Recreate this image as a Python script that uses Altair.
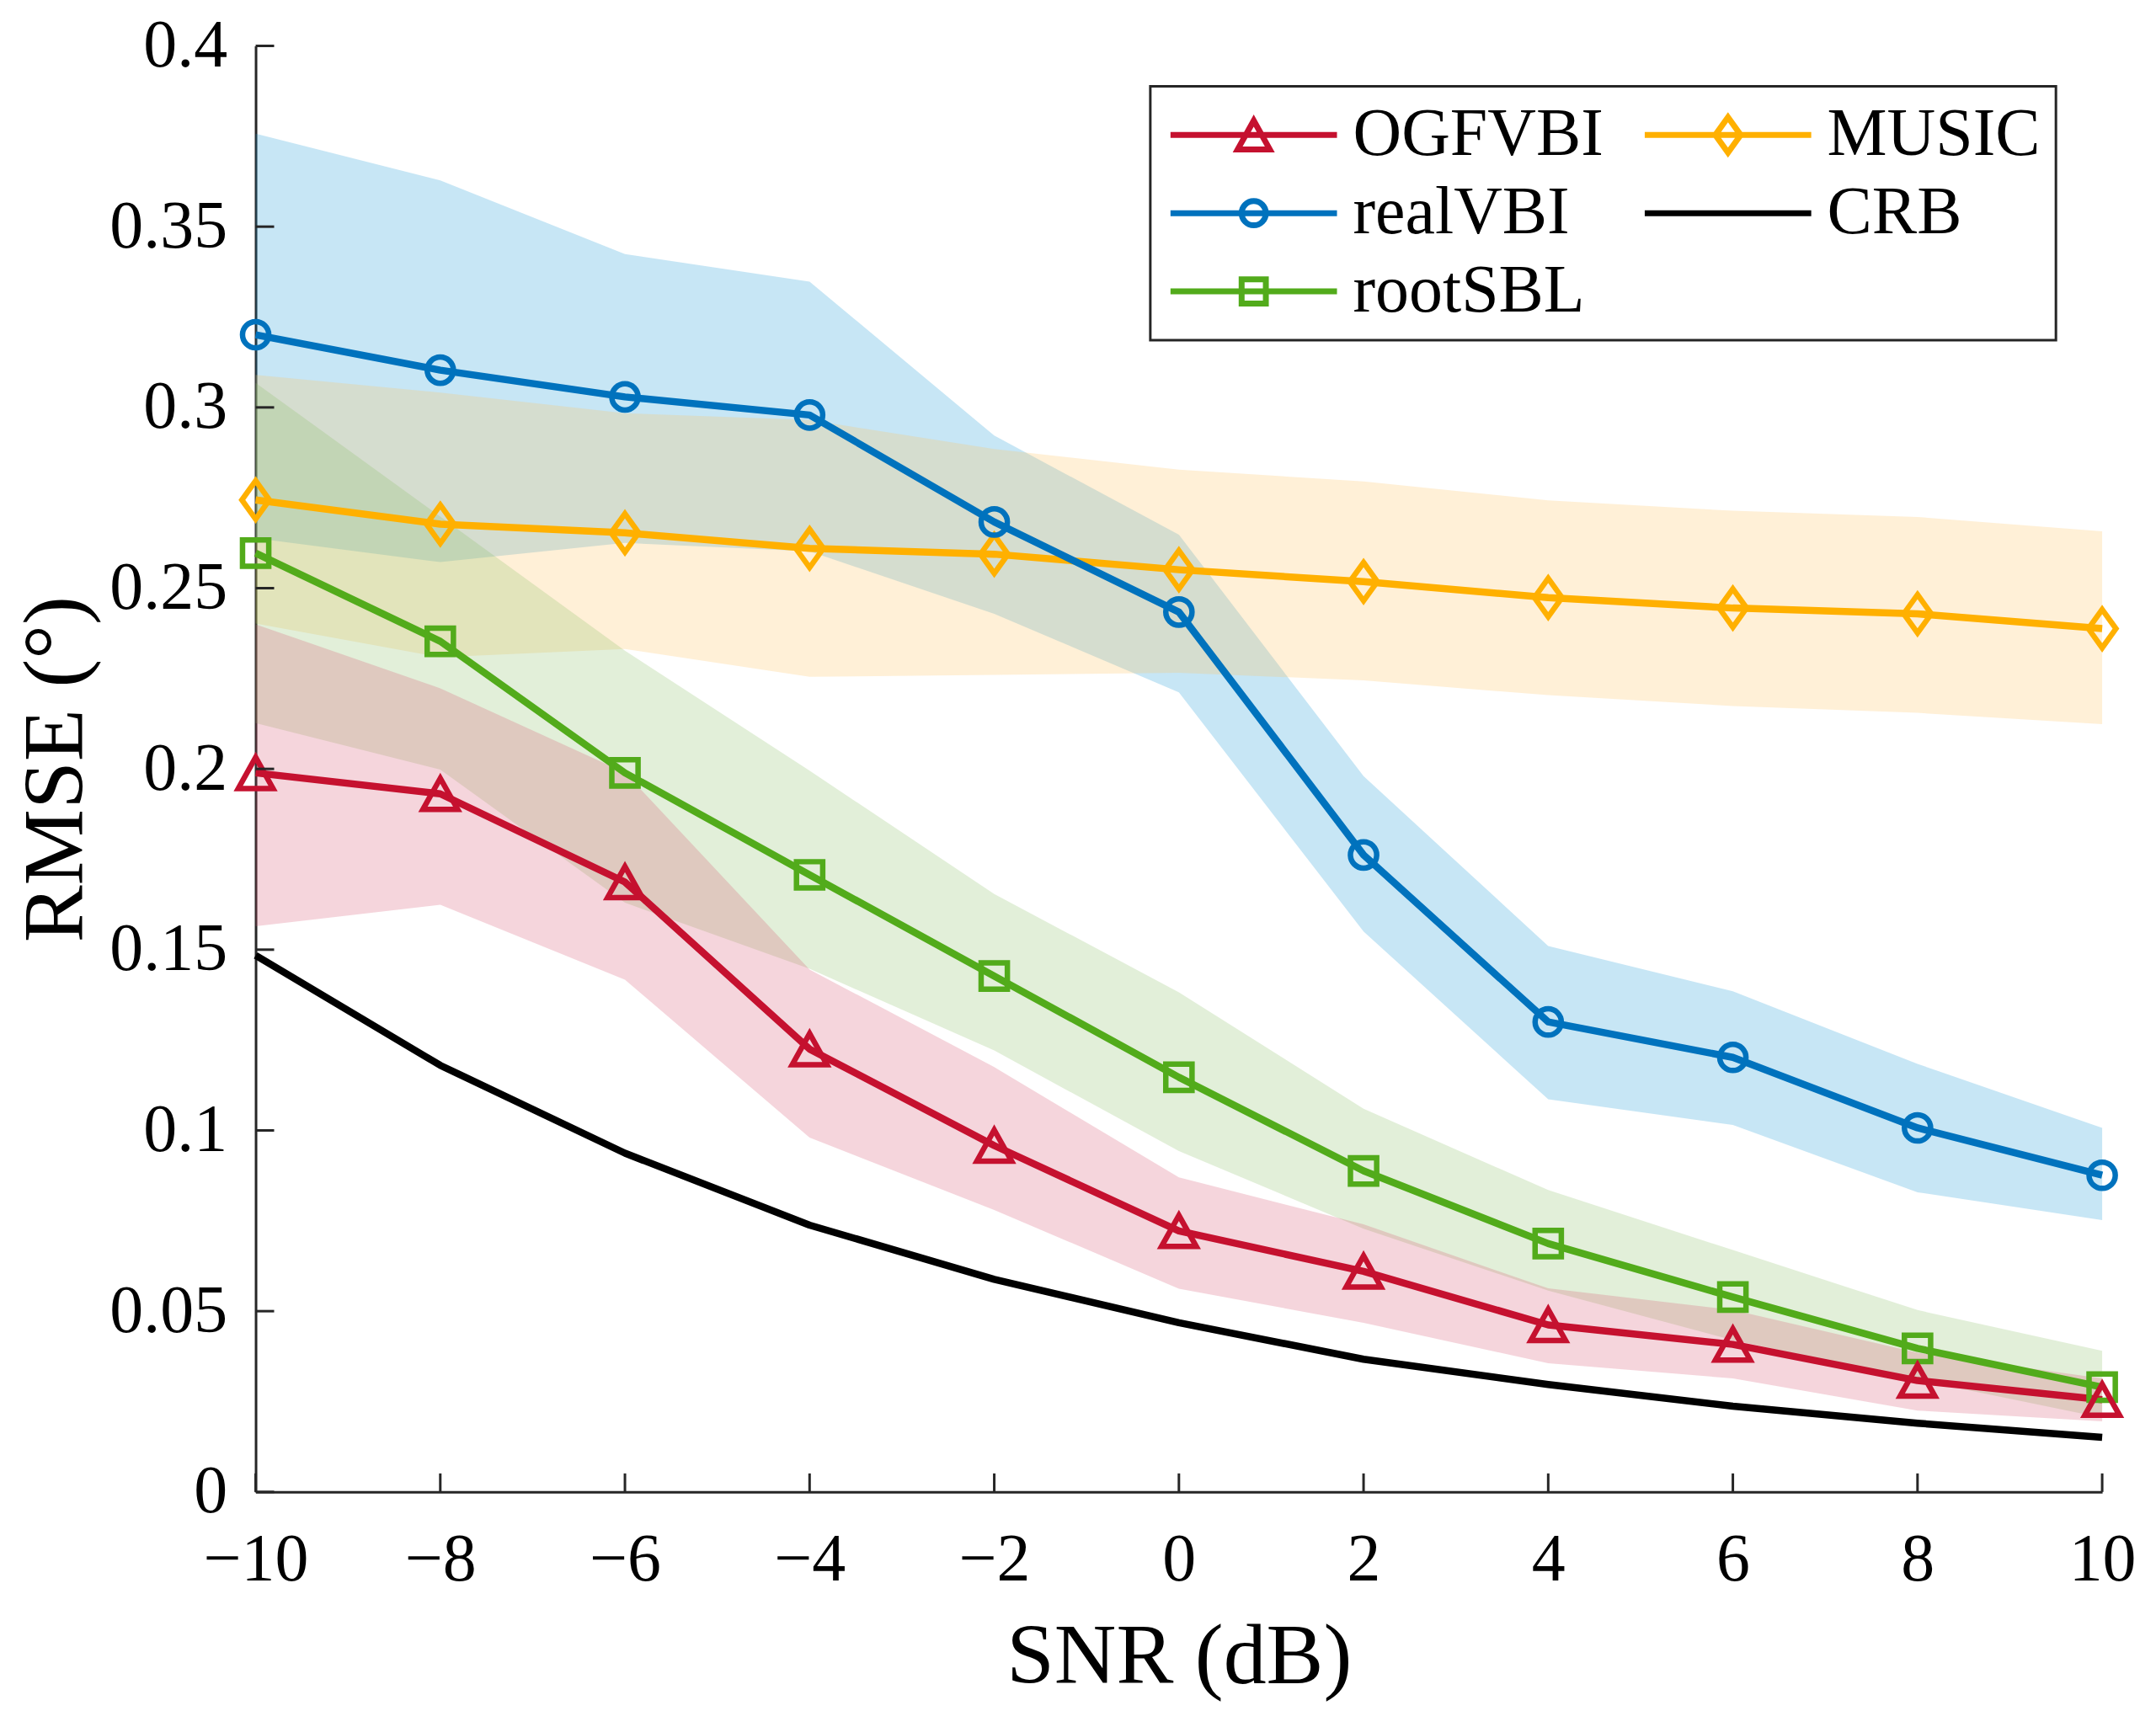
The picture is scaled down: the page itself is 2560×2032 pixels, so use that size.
import altair as alt
import pandas as pd

# ---------------- data ----------------
SNR = [-10, -8, -6, -4, -2, 0, 2, 4, 6, 8, 10]

OGFVBI = [0.1989, 0.1931, 0.1687, 0.1225, 0.0958, 0.0722, 0.0610, 0.0462, 0.0408, 0.0308, 0.0255]
OGFVBI_HI = [0.2400, 0.2223, 0.1990, 0.1445, 0.1175, 0.0870, 0.0740, 0.0563, 0.0503, 0.0385, 0.0314]
OGFVBI_LO = [0.1565, 0.1624, 0.1417, 0.0980, 0.0780, 0.0562, 0.0468, 0.0356, 0.0314, 0.0225, 0.0195]

REALVBI = [0.3201, 0.3103, 0.3029, 0.2979, 0.2683, 0.2434, 0.1762, 0.1300, 0.1202, 0.1007, 0.0876]
REALVBI_HI = [0.3757, 0.3628, 0.3424, 0.3348, 0.2922, 0.2648, 0.1980, 0.1510, 0.1385, 0.1184, 0.1007]
REALVBI_LO = [0.2638, 0.2572, 0.2625, 0.2602, 0.2429, 0.2212, 0.1550, 0.1086, 0.1015, 0.0829, 0.0752]

ROOTSBL = [0.2597, 0.2353, 0.1989, 0.1707, 0.1427, 0.1147, 0.0888, 0.0687, 0.0539, 0.0397, 0.0290]
ROOTSBL_HI = [0.3068, 0.2698, 0.2327, 0.1995, 0.1654, 0.1382, 0.1060, 0.0835, 0.0669, 0.0503, 0.0390]
ROOTSBL_LO = [0.2127, 0.1998, 0.1630, 0.1447, 0.1221, 0.0943, 0.0728, 0.0557, 0.0420, 0.0310, 0.0205]

MUSIC = [0.2744, 0.2677, 0.2653, 0.2610, 0.2594, 0.2551, 0.2518, 0.2474, 0.2445, 0.2429, 0.2388]
MUSIC_HI = [0.3090, 0.3041, 0.2984, 0.2965, 0.2885, 0.2828, 0.2795, 0.2743, 0.2714, 0.2697, 0.2657]
MUSIC_LO = [0.2402, 0.2309, 0.2332, 0.2255, 0.2260, 0.2266, 0.2245, 0.2204, 0.2174, 0.2155, 0.2124]

CRB = [0.1484, 0.1180, 0.0937, 0.0738, 0.0588, 0.0468, 0.0367, 0.0297, 0.0237, 0.0190, 0.0151]

SERIES = ["OGFVBI", "realVBI", "rootSBL", "MUSIC", "CRB"]
BAND_SERIES = ["realVBI", "MUSIC", "rootSBL", "OGFVBI"]
DRAW_ORDER = ["CRB", "MUSIC", "rootSBL", "realVBI", "OGFVBI"]

Y_TICKS = [0, 0.05, 0.1, 0.15, 0.2, 0.25, 0.3, 0.35, 0.4]
X_TICKS = [-10, -8, -6, -4, -2, 0, 2, 4, 6, 8, 10]

# ---------------- styles ----------------
LINE_COLORS = {"OGFVBI": "#C5112F", "realVBI": "#0072BD", "rootSBL": "#52AB1B",
               "MUSIC": "#FFB000", "CRB": "#000000"}
BAND_COLORS = {"OGFVBI": "#D75773", "realVBI": "#1F9BD7", "rootSBL": "#8BBF67",
               "MUSIC": "#FFC35F"}

TRI = "M0,-0.95L1.06,0.95L-1.06,0.95Z"
CIRC = "M0.8,0A0.8,0.8,0,1,1,-0.8,0A0.8,0.8,0,1,1,0.8,0Z"
SQ = "M-0.8,-0.8H0.8V0.8H-0.8Z"
DIA = "M0,-1.17L0.84,0L0,1.17L-0.84,0Z"
LEG_LINE = "M-5.5,0H5.5"
MARKERS = {"OGFVBI": TRI, "realVBI": CIRC, "rootSBL": SQ, "MUSIC": DIA}
LEG_PATHS = {s: LEG_LINE + MARKERS.get(s, "") for s in SERIES}

FONT = "Liberation Serif"
AX = "#262626"
W, H = 2196, 1720

# ---------------- tables ----------------
means = {"OGFVBI": OGFVBI, "realVBI": REALVBI, "rootSBL": ROOTSBL, "MUSIC": MUSIC, "CRB": CRB}
his = {"OGFVBI": OGFVBI_HI, "realVBI": REALVBI_HI, "rootSBL": ROOTSBL_HI, "MUSIC": MUSIC_HI}
los = {"OGFVBI": OGFVBI_LO, "realVBI": REALVBI_LO, "rootSBL": ROOTSBL_LO, "MUSIC": MUSIC_LO}

mean_df = pd.DataFrame([{"series": s, "snr": x, "rmse": v}
                        for s in SERIES for x, v in zip(SNR, means[s])])
band_df = pd.DataFrame([{"series": s, "snr": x, "lo": lo, "hi": hi}
                        for s in BAND_SERIES for x, lo, hi in zip(SNR, los[s], his[s])])

xs = alt.Scale(domain=[-10, 10], nice=False, zero=False)
ys = alt.Scale(domain=[0, 0.4], nice=False, zero=False)

x_axis = alt.Axis(title="SNR (dB)", values=X_TICKS, ticks=False, grid=False,
                  domainColor=AX, domainWidth=3, labelFont=FONT, labelFontSize=80,
                  labelColor="black", labelPadding=105, labelBaseline="alphabetic",
                  labelFlush=False, labelOverlap=False,
                  labelExpr="datum.value < 0 ? '\u2212' + abs(datum.value) : '' + datum.value",
                  titleFont=FONT, titleFontSize=102, titleFontWeight="normal",
                  titleColor="black", titleX=W / 2, titleY=227, titleBaseline="alphabetic")
y_axis = alt.Axis(title="RMSE (\u00b0)", values=Y_TICKS, format="~g", ticks=False, grid=False,
                  domainColor=AX, domainWidth=3, labelFont=FONT, labelFontSize=80,
                  labelColor="black", labelPadding=34, labelFlush=False, labelOverlap=False,
                  titleFont=FONT, titleFontSize=102, titleFontWeight="normal",
                  titleColor="black", titleAngle=270, titleX=-206, titleY=H / 2,
                  titleBaseline="alphabetic")


def X(f):
    return alt.X(f"{f}:Q", scale=xs, axis=x_axis)


def Y(f):
    return alt.Y(f"{f}:Q", scale=ys, axis=y_axis)


bands = alt.Chart(band_df).mark_area(opacity=0.25).encode(
    x=X("snr"), y=Y("lo"), y2="hi",
    fill=alt.Fill("series:N", scale=alt.Scale(domain=BAND_SERIES,
                                              range=[BAND_COLORS[s] for s in BAND_SERIES]),
                  legend=None),
)

line_layers = []
for s in DRAW_ORDER:
    line_layers.append(
        alt.Chart(mean_df).transform_filter(alt.datum.series == s).mark_line(
            strokeWidth=8.5, strokeJoin="round", color=LINE_COLORS[s]
        ).encode(x=X("snr"), y=Y("rmse"))
    )

point_layers = []
for s in DRAW_ORDER:
    if s not in MARKERS:
        continue
    point_layers.append(
        alt.Chart(mean_df).transform_filter(alt.datum.series == s).mark_point(
            shape=MARKERS[s], size=1521, filled=False, strokeWidth=6.5,
            color=LINE_COLORS[s], opacity=1
        ).encode(x=X("snr"), y=Y("rmse"))
    )

ytick = alt.Chart(pd.DataFrame({"v": Y_TICKS})).mark_rule(color=AX, strokeWidth=3).encode(
    y=Y("v"), x=alt.value(0), x2=alt.value(22))
xtick = alt.Chart(pd.DataFrame({"v": X_TICKS})).mark_rule(color=AX, strokeWidth=3).encode(
    x=X("v"), y=alt.value(H), y2=alt.value(H - 22))

leg = alt.Legend(title=None, orient="none", legendX=1064, legendY=48, columns=2,
                 columnPadding=35, rowPadding=13, padding=18, strokeColor=AX,
                 fillColor="white", labelFont=FONT, labelFontSize=80, labelColor="black",
                 labelLimit=1000, labelOffset=78, symbolOffset=65, symbolSize=1296,
                 symbolStrokeWidth=7, symbolOpacity=1)

helper_df = pd.DataFrame({"leg": SERIES, "snr": [-10] * 5, "rmse": [-1] * 5})
helper = alt.Chart(helper_df).mark_point(filled=False, clip=True, size=1296,
                                         strokeWidth=7, opacity=1).encode(
    x=X("snr"), y=Y("rmse"),
    color=alt.Color("leg:N", scale=alt.Scale(domain=SERIES,
                                             range=[LINE_COLORS[s] for s in SERIES]),
                    legend=leg),
    shape=alt.Shape("leg:N", scale=alt.Scale(domain=SERIES,
                                             range=[LEG_PATHS[s] for s in SERIES]),
                    legend=leg),
)

chart = alt.layer(bands, *line_layers, *point_layers, ytick, xtick, helper).properties(
    width=W, height=H,
    padding={"left": 296, "top": 45, "right": 56, "bottom": 251},
    autosize=alt.AutoSizeParams(type="none"),
    background="white",
).configure_view(stroke=None).configure_legend(strokeWidth=3)

chart.save("out.html", embed_options={"renderer": "svg", "actions": False})
